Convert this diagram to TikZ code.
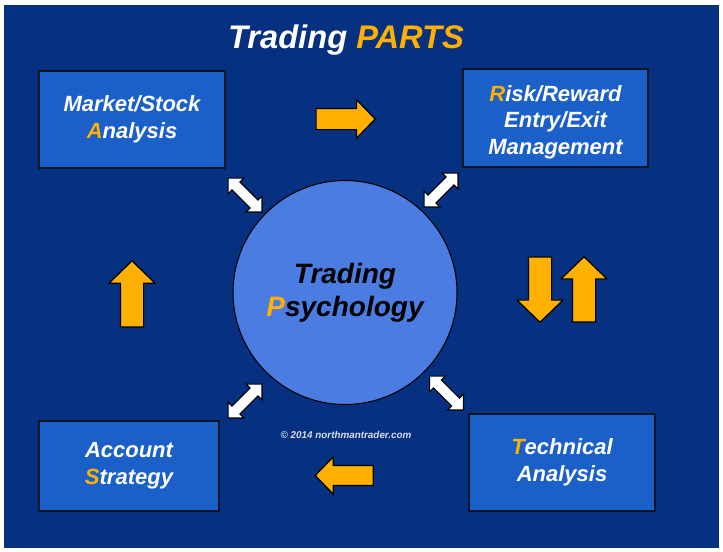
\documentclass[tikz,border=0pt]{standalone}
\usepackage{fontspec}
\setmainfont{Liberation Sans}
\usepackage{xcolor}
\usepackage{tikz}
\usetikzlibrary{shapes.arrows}
\definecolor{bgNavy}{RGB}{6, 48, 128}
\definecolor{boxBlue}{RGB}{27, 96, 200}
\definecolor{circBlue}{RGB}{74, 124, 226}
\definecolor{partOrange}{RGB}{255, 176, 0}
\definecolor{edgeDark}{RGB}{12, 20, 40}
\definecolor{noteGrey}{RGB}{215, 222, 235}
\newcommand{\hl}[1]{\textcolor{partOrange}{#1}}

\begin{document}
\begin{tikzpicture}[x=0.75pt, y=-0.75pt,
    partbox/.style={draw=edgeDark, line width=1.2pt, fill=boxBlue, inner sep=0pt, align=center, text=white, font=\fontsize{16.5}{20}\selectfont\bfseries\itshape},
    flowarrow/.style={single arrow, draw=black, line width=0.9pt, fill=partOrange, inner xsep=0pt, single arrow tip angle=92},
    linkarrow/.style={double arrow, draw=black, line width=0.8pt, fill=white, inner xsep=0pt, inner ysep=3.8pt, minimum height=36pt, double arrow head extend=4.2pt}]
    % Frame
    \useasboundingbox (0,0) rectangle (723,551);
    \fill[white] (0,0) rectangle (723,551);
    \fill[bgNavy] (3.5,5) rectangle (719,548);
    % Title
    \node[anchor=base, text=white, font=\fontsize{24.5}{28}\selectfont\bfseries\itshape] (title) at (346,48) {Trading \hl{PARTS}};
    % Centre circle
    \node[circle, draw=black, line width=0.8pt, fill=circBlue, minimum size=168pt, inner sep=0pt, align=center, text=black, font=\fontsize{21}{24.5}\selectfont\bfseries\itshape] (psych) at (345,292.5) {Trading\\\hl{P}sychology};
    % Four parts
    \node[partbox, minimum width=139.5pt, minimum height=72.75pt] (market) at (132,119.5) {Market/Stock\\\hl{A}nalysis};
    \node[partbox, minimum width=138.75pt, minimum height=73.5pt] (risk) at (555.5,118) {\rule{0pt}{18pt}\hl{R}isk/Reward\\Entry/Exit\\Management};
    \node[partbox, minimum width=139.5pt, minimum height=72.75pt] (tech) at (562,462.5) {\hl{T}echnical\\Analysis};
    \node[partbox, minimum width=135pt, minimum height=67.5pt] (account) at (129,466) {Account\\\hl{S}trategy};
    % Orange flow arrows
    \node[flowarrow, minimum height=44.25pt, inner ysep=7.5pt, single arrow head extend=6.4pt] (toRisk) at (340.5,119) {};
    \node[flowarrow, minimum height=49pt, inner ysep=8.25pt, single arrow head extend=8.5pt, rotate=-90] (toTech) at (540,284) {};
    \node[flowarrow, minimum height=49pt, inner ysep=8.25pt, single arrow head extend=8.5pt, rotate=90] (fromTech) at (584,295) {};
    \node[flowarrow, minimum height=43.5pt, inner ysep=7pt, single arrow head extend=6.5pt, rotate=180] (toAccount) at (349,475.5) {};
    \node[flowarrow, minimum height=49.5pt, inner ysep=8.25pt, single arrow head extend=8.6pt, rotate=90] (toMarket) at (132,299.5) {};
    % White links to the circle
    \node[linkarrow, rotate=-45] (linkMarket) at (245,195) {};
    \node[linkarrow, rotate=45] (linkRisk) at (441,190) {};
    \node[linkarrow, rotate=45] (linkAccount) at (245,401) {};
    \node[linkarrow, rotate=-45] (linkTech) at (446.5,393) {};
    % Note
    \node[anchor=base, text=noteGrey, font=\fontsize{7.4}{9}\selectfont\bfseries\itshape] (note) at (346,438.5) {© 2014 northmantrader.com};
\end{tikzpicture}
\end{document}
